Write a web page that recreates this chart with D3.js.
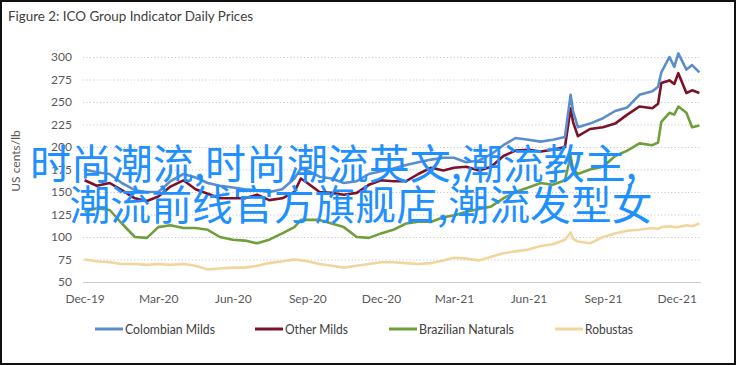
<!DOCTYPE html>
<html><head><meta charset="utf-8">
<script src="https://cdn.jsdelivr.net/npm/d3@7"></script>
<style>body{margin:0;background:#fff}svg{display:block}</style>
</head><body><svg id="c" width="736" height="365"></svg>
<script>
const dates = ["2019-12-01","2019-12-16","2020-01-01","2020-01-16","2020-02-01","2020-02-16","2020-03-01","2020-03-16","2020-04-01","2020-04-16","2020-05-01","2020-05-16","2020-06-01","2020-06-16","2020-07-01","2020-07-16","2020-08-01","2020-08-16","2020-08-24","2020-09-01","2020-09-16","2020-10-01","2020-10-16","2020-11-01","2020-11-16","2020-12-01","2020-12-16","2021-01-01","2021-01-16","2021-02-01","2021-02-16","2021-03-01","2021-03-16","2021-04-01","2021-04-16","2021-05-01","2021-05-16","2021-06-01","2021-06-16","2021-07-01","2021-07-16","2021-07-23","2021-07-26","2021-08-01","2021-08-16","2021-09-01","2021-09-16","2021-10-01","2021-10-16","2021-11-01","2021-11-08","2021-11-12","2021-11-22","2021-11-28","2021-12-03","2021-12-13","2021-12-20","2021-12-29"];
const colombianMilds = [175,172,170,160,152,150,150,162,170,166,160,157,155,153,152,150,153,165,176,174,167,165,160,162,170,173,176,180,183,186,188,188,183,185,192,202,210,208,206,208,211,258,240,222,226,232,240,244,258,262,267,283,300,289,304,286,291,283];
const otherMilds = [163,157,160,152,143,140,145,156,163,153,148,143,143,143,147,141,143,150,165,160,150,149,147,149,158,163,162,162,170,177,174,177,178,174,178,190,196,197,195,197,200,243,228,212,220,222,226,236,245,243,248,271,274,270,282,260,263,260];
const brazilianNaturals = [128,132,130,115,100,99,111,113,110,110,108,100,97,96,93,97,104,111,119,119,119,115,111,100,99,104,108,115,117,117,122,124,128,131,134,143,150,155,160,158,163,190,175,170,175,178,190,196,204,202,205,228,238,236,245,238,222,224];
const robustas = [75,73,72,70,70,69,70,69,70,68,64,65,66,66,68,71,73,75,74,73,70,68,66,68,70,72,72,71,70,71,74,77,76,74,78,82,84,86,90,92,97,105,98,95,93,100,104,107,108,110,109,111,112,111,111,113,112,115];

const seriesNames = ["Colombian Milds","Other Milds","Brazilian Naturals","Robustas"];
const seriesColors = ["#5b8ccb","#7a1228","#6f9e3c","#f2d59c"];
const yTicks = [50,75,100,125,150,175,200,225,250,275,300];
const xTickDates = ["2019-12-01","2020-03-01","2020-06-01","2020-09-01","2020-12-01","2021-03-01","2021-06-01","2021-09-01","2021-12-01"];
const xTickLabels = ["Dec-19","Mar-20","Jun-20","Sep-20","Dec-20","Mar-21","Jun-21","Sep-21","Dec-21"];
const titleText = "Figure 2: ICO Group Indicator Daily Prices";
const yTitle = "US cents/lb";
const overlayLines = ["时尚潮流,时尚潮流英文,潮流教主,","潮流前线官方旗舰店,潮流发型女"];

const parse = d3.timeParse("%Y-%m-%d");
const svg = d3.select("#c");
const font = "Lato, 'Open Sans', sans-serif";

svg.append("rect").attr("x",1).attr("y",1).attr("width",734).attr("height",363)
  .attr("fill","#fff").attr("stroke","#111").attr("stroke-width",2);

svg.append("text").attr("x",8).attr("y",21).text(titleText)
  .attr("font-family",font).attr("font-size",14).attr("fill","#404040")
  .attr("textLength",245).attr("lengthAdjust","spacingAndGlyphs");

const x = d3.scaleTime().domain([parse("2019-12-01"), parse("2021-12-31")]).range([84.6, 701]);
const y = d3.scaleLinear().domain([50,300]).range([282,57]);

// gridlines
svg.append("g").selectAll("line").data(yTicks).join("line")
  .attr("x1",83).attr("x2",701)
  .attr("y1",d=>y(d)+0.5).attr("y2",d=>y(d)+0.5)
  .attr("stroke",d=>d===50?"#d0d0d0":"#c8c8c8")
  .attr("stroke-width",d=>d===50?1.2:1)
  .attr("stroke-dasharray",d=>d===50?null:"1.2,2.2");

const yAxis = svg.append("g").attr("transform","translate(83,0)")
  .call(d3.axisLeft(y).tickValues(yTicks).tickSize(0).tickPadding(11));
yAxis.select(".domain").remove();
yAxis.selectAll("text").attr("font-family",font).attr("font-size",12).attr("fill","#595959");

const xAxis = svg.append("g").attr("transform","translate(0,282)")
  .call(d3.axisBottom(x).tickValues(xTickDates.map(parse)).tickFormat((d,i)=>xTickLabels[i]).tickSize(0).tickPadding(12.5));
xAxis.select(".domain").remove();
xAxis.selectAll("text").attr("font-family",font).attr("font-size",12).attr("fill","#595959");

svg.append("text").attr("transform","translate(20,161) rotate(-90)")
  .attr("text-anchor","middle").text(yTitle)
  .attr("font-family",font).attr("font-size",12).attr("fill","#595959");

const allSeries = [colombianMilds, otherMilds, brazilianNaturals, robustas];
const line = d3.line().x((d,i)=>x(parse(dates[i]))).y(d=>y(d));
// draw robustas first then green, red, blue on top
[3,2,1,0].forEach(k=>{
  svg.append("path").datum(allSeries[k]).attr("d",line)
    .attr("fill","none").attr("stroke",seriesColors[k]).attr("stroke-width",2.6)
    .attr("stroke-linejoin","round");
});

// legend
const legX = [95,255,389,555];
const legW = [90,63,95,48];
seriesNames.forEach((n,i)=>{
  svg.append("line").attr("x1",legX[i]).attr("x2",legX[i]+28).attr("y1",329).attr("y2",329)
    .attr("stroke",seriesColors[i]).attr("stroke-width",3);
  svg.append("text").attr("x",legX[i]+30).attr("y",333.5).text(n)
    .attr("font-family",font).attr("font-size",12.5).attr("fill","#404040")
    .attr("textLength",legW[i]).attr("lengthAdjust","spacingAndGlyphs");
});

// overlay text
const ovX = [30,69.5], ovY = [179,220], ovW = [607,583];
overlayLines.forEach((t,i)=>{
  svg.append("text").attr("x",ovX[i]).attr("y",ovY[i]).text(t)
    .attr("font-family","'Noto Sans CJK SC', sans-serif").attr("font-size",41)
    .attr("fill","#1e90ff").attr("textLength",ovW[i]).attr("lengthAdjust","spacingAndGlyphs");
});
</script></body></html>
